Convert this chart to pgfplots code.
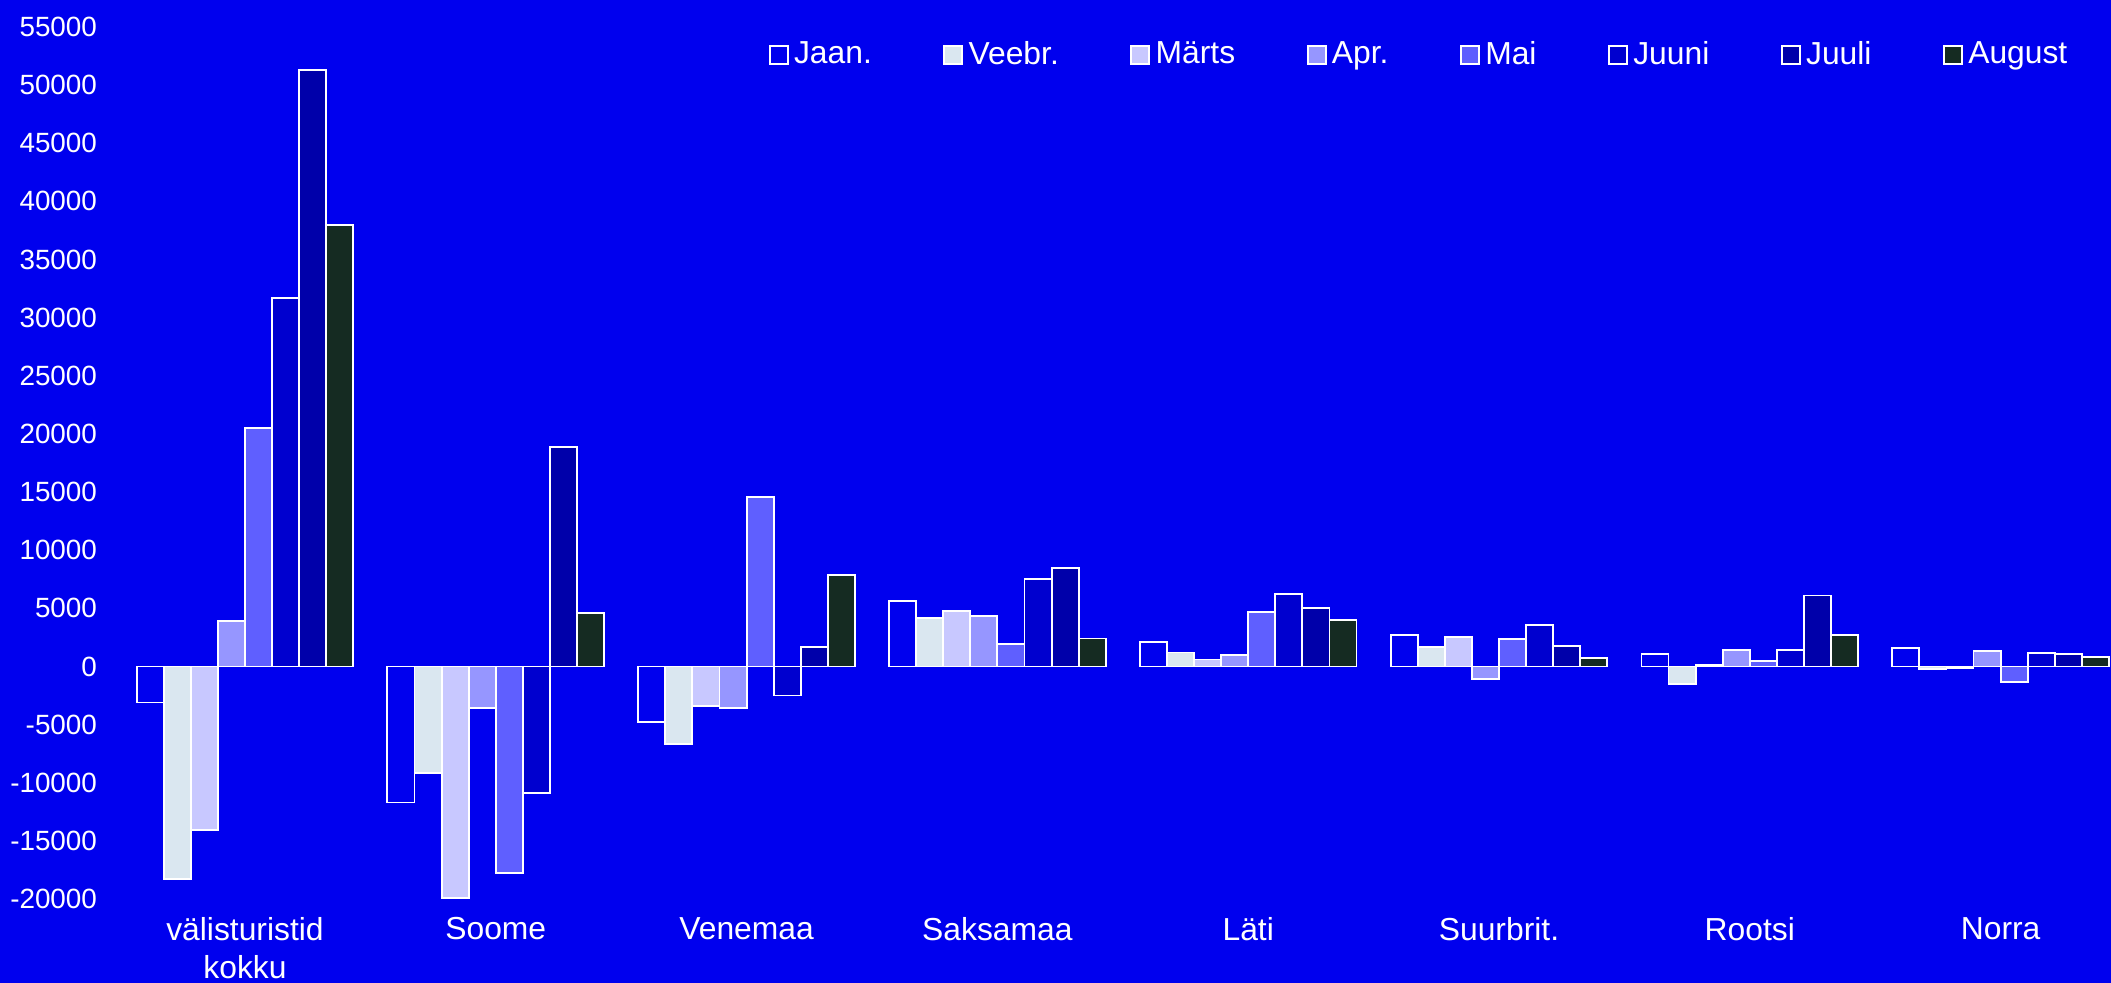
\documentclass[border=0pt]{standalone}
\usepackage{fontspec}
\setmainfont{Liberation Sans}
\usepackage{pgfplots}
\pgfplotsset{compat=1.18}
\definecolor{bg}{HTML}{0000EE}
\definecolor{cJaan}{HTML}{0000EE}
\definecolor{cVeebr}{HTML}{DAE7F0}
\definecolor{cMarts}{HTML}{C8C8FF}
\definecolor{cApr}{HTML}{9696FF}
\definecolor{cMai}{HTML}{5F5FFF}
\definecolor{cJuuni}{HTML}{0000CF}
\definecolor{cJuuli}{HTML}{0000AA}
\definecolor{cAug}{HTML}{152B22}
\begin{document}
\begin{tikzpicture}
\fill[bg] (0,0) rectangle (796.3pt,370.8pt);
\begin{axis}[
  at={(45.1pt,31.7pt)}, anchor=south west,
  scale only axis, width=751.2pt, height=328.9pt,
  xmin=-0.5, xmax=7.44, ymin=-20000, ymax=55000,
  ybar=0pt, bar width=0.108,
  axis line style={draw=none}, major tick length=0pt,
  axis background/.style={fill=none},
  ytick={-20000,-15000,...,55000},
  xtick={0,...,7},
  xticklabels={{välisturistid\\kokku},Soome,Venemaa,Saksamaa,Läti,Suurbrit.,Rootsi,Norra},
  xticklabel style={align=center, text=white, font=\fontsize{12}{14.3}\selectfont, yshift=-3.5pt},
  yticklabel style={text=white, font=\fontsize{10.5}{12.5}\selectfont, xshift=-5pt},
  /pgf/number format/assume math mode=true,
  /pgf/number format/set thousands separator={},
  scaled y ticks=false,
  every axis plot/.append style={draw=white, line width=0.7pt},
  legend columns=8,
  legend style={draw=none, fill=none, text=white, font=\fontsize{12}{14}\selectfont,
    at={(0.985,0.968)}, anchor=east,
    /tikz/every even column/.append style={column sep=25pt},
    /tikz/every odd column/.append style={column sep=0pt}},
  legend image code/.code={\draw[#1, draw=white, line width=0.7pt] (0pt,-3.4pt) rectangle (6.8pt,3.4pt);},
]
\addplot[fill=cJaan] coordinates {(0,-3100) (1,-11700) (2,-4800) (3,5600) (4,2100) (5,2700) (6,1100) (7,1600)};
\addplot[fill=cVeebr] coordinates {(0,-18300) (1,-9200) (2,-6700) (3,4200) (4,1200) (5,1700) (6,-1500) (7,-250)};
\addplot[fill=cMarts] coordinates {(0,-14100) (1,-19900) (2,-3400) (3,4800) (4,600) (5,2500) (6,100) (7,-150)};
\addplot[fill=cApr] coordinates {(0,3900) (1,-3600) (2,-3600) (3,4350) (4,1000) (5,-1100) (6,1400) (7,1300)};
\addplot[fill=cMai] coordinates {(0,20500) (1,-17800) (2,14600) (3,1900) (4,4700) (5,2350) (6,500) (7,-1350)};
\addplot[fill=cJuuni] coordinates {(0,31700) (1,-10900) (2,-2500) (3,7500) (4,6200) (5,3600) (6,1400) (7,1150)};
\addplot[fill=cJuuli] coordinates {(0,51300) (1,18900) (2,1700) (3,8500) (4,5000) (5,1750) (6,6100) (7,1050)};
\addplot[fill=cAug] coordinates {(0,38000) (1,4600) (2,7900) (3,2400) (4,4000) (5,750) (6,2700) (7,800)};
\legend{Jaan.,Veebr.,Märts,Apr.,Mai,Juuni,Juuli,August}
\end{axis}
\pgfresetboundingbox
\path[use as bounding box] (0,0) rectangle (796.3pt,370.8pt);
\end{tikzpicture}
\end{document}
